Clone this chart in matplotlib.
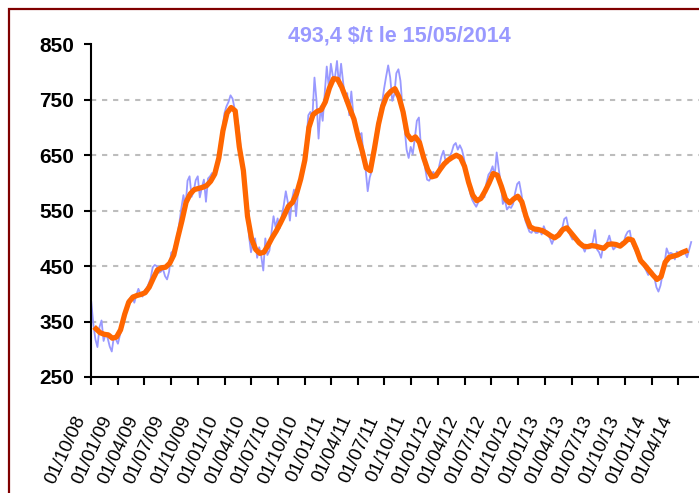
import matplotlib
matplotlib.use("Agg")
import matplotlib.pyplot as plt
import matplotlib.transforms as mtransforms
from matplotlib.patches import Rectangle
import pandas as pd

# === DATA ===
title_text = "493,4 $/t le 15/05/2014"

# daily price sampled weekly, 02/10/2008 -> 15/05/2014
price_start = "2008-10-02"
price = [
    385, 345, 318, 304, 340, 352, 315, 328, 320, 305,
    296, 322, 318, 310, 326, 338, 356, 372, 388, 392,
    397, 384, 398, 409, 400, 395, 406, 410, 418, 428,
    448, 452, 450, 438, 440, 445, 432, 426, 440, 474,
    478, 490, 505, 528, 555, 578, 556, 604, 612, 575,
    585, 605, 612, 574, 592, 606, 566, 608, 612, 618,
    610, 628, 642, 668, 695, 725, 738, 746, 758, 752,
    734, 722, 700, 660, 622, 585, 548, 505, 475, 492,
    500, 465, 484, 468, 442, 500, 470, 478, 510, 540,
    520, 536, 518, 540, 560, 585, 565, 532, 570, 588,
    540, 585, 608, 620, 632, 675, 722, 728, 720, 790,
    748, 680, 738, 712, 760, 810, 772, 815, 792, 790,
    820, 775, 815, 782, 748, 762, 722, 765, 722, 712,
    678, 686, 690, 648, 624, 585, 610, 622, 660, 690,
    712, 730, 745, 770, 792, 812, 790, 748, 760, 798,
    805, 784, 735, 700, 660, 645, 665, 652, 680, 712,
    718, 665, 650, 628, 606, 604, 610, 620, 614, 612,
    632, 648, 658, 640, 636, 648, 655, 668, 672, 660,
    668, 660, 645, 624, 600, 582, 570, 563, 557, 565,
    572, 575, 574, 600, 615, 620, 630, 612, 655, 625,
    600, 562, 570, 552, 557, 555, 562, 582, 598, 602,
    582, 558, 532, 522, 512, 510, 517, 510, 510, 515,
    507, 522, 512, 508, 500, 490, 500, 504, 510, 515,
    518, 535, 538, 520, 505, 498, 499, 495, 492, 490,
    485, 476, 487, 482, 483, 495, 515, 480, 475, 465,
    486, 483, 494, 505, 490, 480, 484, 487, 486, 493,
    492, 505, 512, 514, 492, 484, 476, 468, 460, 454,
    449, 442, 434, 442, 440, 430, 412, 404, 415, 435,
    455, 482, 472, 474, 472, 462, 476, 472, 470, 474,
    474, 466, 480, 493.4,
]

# moving average, sampled every 14 days from 18/10/2008
avg_start = "2008-10-18"
avg = [
    337, 330, 327, 326, 320, 322, 335, 363, 385, 394,
    397, 399, 402, 412, 428, 443, 447, 448, 455, 470,
    502, 532, 565, 580, 588, 590, 592, 595, 603, 616,
    645, 694, 726, 736, 730, 665, 622, 540, 499, 480,
    473, 475, 487, 501, 513, 527, 542, 558, 565, 581,
    607, 641, 700, 723, 729, 732, 746, 771, 788, 787,
    773, 754, 734, 715, 684, 658, 627, 622, 662, 706,
    738, 757, 765, 770, 755, 728, 688, 678, 683, 673,
    646, 624, 611, 613, 624, 634, 641, 646, 650, 646,
    630, 601, 578, 568, 572, 585, 600, 617, 614, 594,
    571, 564, 571, 576, 566, 540, 521, 517, 516, 514,
    510, 505, 501, 506, 516, 519, 510, 501, 492, 486,
    485, 487, 486, 484, 482, 489, 490, 489, 486, 492,
    499, 497, 480, 460, 452, 443, 434, 426, 431, 457,
    466, 468, 470, 474, 477,
]

tick_labels = [
    "01/10/08", "01/01/09", "01/04/09", "01/07/09", "01/10/09", "01/01/10",
    "01/04/10", "01/07/10", "01/10/10", "01/01/11", "01/04/11", "01/07/11",
    "01/10/11", "01/01/12", "01/04/12", "01/07/12", "01/10/12", "01/01/13",
    "01/04/13", "01/07/13", "01/10/13", "01/01/14", "01/04/14",
]
y_ticks = [250, 350, 450, 550, 650, 750, 850]
grid_levels = [350, 450, 550, 650, 750]

# === DATES ===
price_dates = pd.date_range(price_start, periods=len(price), freq="7D")
avg_dates = pd.date_range(avg_start, periods=len(avg), freq="14D")
tick_dates = pd.to_datetime(tick_labels, format="%d/%m/%y")

plt.rcParams['font.family'] = ['Liberation Sans', 'DejaVu Sans']

# === FIGURE ===
fig = plt.figure(figsize=(6.99, 4.93), dpi=100)
ax = fig.add_axes([0.1302, 0.2353, 0.8737, 0.6748])

ax.plot(price_dates, price, color='#9999ff', linewidth=1.3, zorder=2)
ax.plot(avg_dates, avg, color='#ff6600', linewidth=3.8, zorder=3,
        solid_joinstyle='round')

ax.hlines(grid_levels, pd.Timestamp("2008-10-01"), pd.Timestamp("2014-06-20"),
          colors='#bdbdbd', linewidth=1.5, linestyles=(0, (2.5, 2.8)), zorder=1)

ax.set_xlim(pd.Timestamp("2008-10-01"), pd.Timestamp("2014-06-20"))
ax.set_ylim(250, 850)

ax.spines['top'].set_visible(False)
ax.spines['right'].set_visible(False)
for s in ('left', 'bottom'):
    ax.spines[s].set_linewidth(1.5)
    ax.spines[s].set_color('black')

ax.set_yticks(y_ticks)
ax.set_yticklabels([str(v) for v in y_ticks], fontsize=15, fontweight='bold')
ax.tick_params(axis='y', direction='out', length=5, width=1.5, pad=7)

ax.set_xticks(tick_dates)
ax.set_xticklabels([])
ax.tick_params(axis='x', direction='out', length=6, width=1.5)

# rotated date labels hanging below the ticks
lab_trans = mtransforms.offset_copy(ax.get_xaxis_transform(), fig=fig,
                                    x=-18, y=-36, units='dots')
for d, lab in zip(tick_dates, tick_labels):
    ax.text(d, 0, lab, transform=lab_trans, rotation=65, rotation_mode='anchor',
            ha='right', va='top', fontsize=13.5, color='black', clip_on=False)

fig.text(0.571, 0.9154, title_text, ha='center', va='baseline',
         fontsize=15.5, fontweight='bold', color='#9999ff')

# dark red frame (runs off the right and bottom edges)
fig.patches.append(Rectangle((0.0129, -0.1), 1.2, 0.9817 + 0.1,
                             transform=fig.transFigure, fill=False,
                             edgecolor='#800000', linewidth=1.6))

fig.savefig("out.png", dpi=100, facecolor='white')
